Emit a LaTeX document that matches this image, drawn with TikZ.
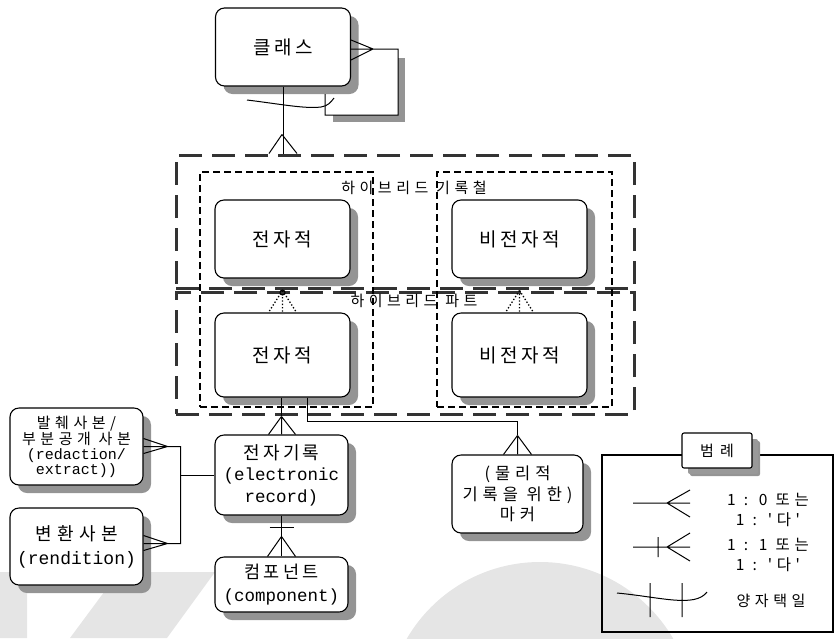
\documentclass[tikz,border=0pt]{standalone}
\usepackage{fontspec}
\setmainfont{Liberation Serif}
\newfontfamily\kr{Noto Sans CJK KR}
\newfontfamily\krs{Noto Sans CJK KR}[LetterSpace=18]
\newfontfamily\krw{Noto Sans CJK KR}[LetterSpace=30]
\newfontfamily\mono{Liberation Mono}
\usetikzlibrary{shadows,calc}
\begin{document}
\begin{tikzpicture}[x=1pt,y=-1pt,
  ent/.style={draw, line width=1.1pt, rounded corners=9pt, fill=white, align=center, inner sep=0pt,
    drop shadow={shadow xshift=8pt, shadow yshift=-8pt, fill=black!42, opacity=1}},
  big/.style={ent, minimum width=135pt, font=\fontsize{19}{22}\selectfont\krs},
  thick dash/.style={draw=black!80, line width=3pt, dash pattern=on 23pt off 10pt, inner sep=0pt},
  thin dash/.style={draw, line width=1.1pt, dash pattern=on 7pt off 4pt, inner sep=0pt},
  con/.style={line width=1pt},
  dcon/.style={line width=1.3pt, dotted},
  wm/.style={fill=black!10},
  lbl/.style={font=\fontsize{15}{18}\selectfont\krw, inner sep=0pt}
]
\useasboundingbox (0,0) rectangle (834,638);
\clip (0,0) rectangle (834,638);
% watermark shapes
\fill[wm] (0,572) -- (215,572) -- (167,638) -- (70,638) -- (113,580) -- (27,580) -- (27,638) -- (0,638) -- cycle;
\fill[wm] (540,716) circle (154pt);

% dashed frames
\node[thick dash, minimum width=458pt, minimum height=133pt] (hf) at (405,221.5) {};
\node[thick dash, minimum width=458pt, minimum height=122pt] (hp) at (405,353) {};
\node[thin dash, minimum width=173pt, minimum height=235pt] (il) at (286.5,289.5) {};
\node[thin dash, minimum width=175pt, minimum height=235pt] (ir) at (524.5,289.5) {};
\node[lbl] (lf) at (414,188) {하이브리드 기록철};
\node[lbl] (lp) at (414,301) {하이브리드 파트};

% self-loop background of class
\fill[black!42] (333,58) rectangle (405,122);
\fill[white] (325,50) rectangle (398,115);

% entities
\node[big, minimum height=78pt] (cls) at (283,47) {클래스};
\node[big, minimum height=78pt] (e1) at (282.5,239) {전자적};
\node[big, minimum height=78pt] (n1) at (519.5,239) {비전자적};
\node[big, minimum height=84pt] (e2) at (282.5,355) {전자적};
\node[big, minimum height=84pt] (n2) at (519.5,355) {비전자적};
\node[ent, minimum width=133pt, minimum height=80pt, font=\fontsize{17.5}{21.5}\selectfont] (er) at (281.5,475)
  {{\fontsize{18}{21.5}\selectfont\krs 전자기록}\\{\mono (electronic}\\{\mono record)}};
\node[ent, minimum width=133pt, minimum height=77pt, font=\fontsize{15}{15}\selectfont] (red) at (76.5,446.5)
  {{\krw 발췌사본/}\\{\krw 부분공개 사본}\\{\mono (redaction/}\\{\mono extract))}};
\node[ent, minimum width=133pt, minimum height=77pt, font=\fontsize{18}{24}\selectfont] (ren) at (76.5,546.5)
  {{\krw 변환사본}\\{\mono (rendition)}};
\node[ent, minimum width=133pt, minimum height=55pt, font=\fontsize{17.5}{23}\selectfont] (comp) at (281.5,584.5)
  {{\krs 컴포넌트}\\{\mono (component)}};
\node[ent, minimum width=131pt, minimum height=78pt, font=\fontsize{16.5}{20.5}\selectfont\krw] (mark) at (517.5,494)
  {(물리적\\기록을 위한)\\마커};

% class self loop
\coordinate (cc) at ($(cls.east)+(22,2)$);
\coordinate (l1) at (398,49);
\coordinate (l2) at (398,115);
\coordinate (l3) at (325,115);
\coordinate (l4) at (325,94);
\draw[con] ($(cls.east)+(0,-7)$) -- (cc) -- ($(cls.east)+(0,13)$) ($(cls.east)+(0,2)$) -- (cc) -- (l1) -- (l2) -- (l3) -- (l4);

% class to hybrid file
\coordinate (cf) at ($(cls.south |- hf.north)+(-1,-19)$);
\draw[con] (cls.south) -- (cls.south |- hf.north);
\draw[con] (cf) -- ($(cls.south |- hf.north)+(-14,0)$) (cf) -- ($(cls.south |- hf.north)+(14,0)$);
\coordinate (x1) at (247,100);
\coordinate (x2) at (334,98);
\draw[con] (x1) .. controls (280,104) and (305,109) .. (321,107) .. controls (328,106) and (331,102) .. (x2);

% dotted part-to-file links
\coordinate (d1) at (e2.north |- hp.north);
\draw[dcon] (d1) -- ($(e2.north)+(-14,0)$) (d1) -- (e2.north) (d1) -- ($(e2.north)+(14,0)$);
\draw[line width=1pt] ($(d1)+(0,2)$) circle (2.5pt);
\coordinate (d2) at (n2.north |- hp.north);
\draw[dcon] (d2) -- ($(n2.north)+(-14,0)$) (d2) -- (n2.north) (d2) -- ($(n2.north)+(14,0)$);

% electronic part -> electronic record
\coordinate (c1) at ($(er.north)+(0,-18)$);
\draw[con] ($(e2.south)+(-1,0)$) -- (c1);
\draw[con] (c1) -- ($(er.north)+(-13,0)$) (c1) -- (er.north) (c1) -- ($(er.north)+(14,0)$);

% electronic part -> marker
\coordinate (m0) at ($(e2.south)+(25,0)$);
\coordinate (m1) at ($(mark.north)+(0,-19)$);
\draw[con] (m0) -- (m0 |- 0,421) -- (mark.north |- 0,421) -- (m1);
\draw[con] (m1) -- ($(mark.north)+(-14,0)$) (m1) -- (mark.north) (m1) -- ($(mark.north)+(14,0)$);

% redaction / rendition -> electronic record
\coordinate (r1) at ($(red.east)+(24,0)$);
\coordinate (r2) at ($(ren.east)+(24,-3)$);
\coordinate (j1) at ($(r1)+(13,0)$);
\coordinate (j2) at ($(r2)+(13,0)$);
\draw[con] ($(red.east)+(0,-8)$) -- (r1) -- ($(red.east)+(0,7)$) (red.east) -- (r1) -- (j1) -- (j2) -- (r2);
\draw[con] ($(ren.east)+(0,-11)$) -- (r2) -- ($(ren.east)+(0,4)$) ($(ren.east)+(0,-3)$) -- (r2);
\draw[con] (j1 |- er.west) -- (er.west);

% component -> electronic record
\coordinate (k1) at ($(comp.north)+(0,-20)$);
\draw[con] (er.south) -- (comp.north);
\draw[con] (k1) -- ($(comp.north)+(-14,0)$) (k1) -- ($(comp.north)+(14,0)$);
\draw[con] ($(er.south)+(-12,12)$) -- ($(er.south)+(12,12)$);

% legend
\draw[line width=1.1pt] (602,455) rectangle (833,632);
\node[ent, rounded corners=2pt, minimum width=70pt, minimum height=35pt, font=\fontsize{15}{18}\selectfont\krs,
  drop shadow={shadow xshift=6pt, shadow yshift=-6pt, fill=black!40, opacity=1}] (lt) at (717,450.5) {범 례};
\coordinate (a1) at (633,503);
\coordinate (a2) at (690,503);
\coordinate (a0) at (667,503);
\draw[con] (a1) -- (a2) (690,490) -- (a0) -- (690,517);
\coordinate (b1) at (633,547);
\coordinate (b2) at (690,547);
\coordinate (b0) at (667,547);
\draw[con] (b1) -- (b2) (690,533) -- (b0) -- (690,561) (658,537) -- (658,557);
\coordinate (q1) at (617,593);
\coordinate (q2) at (707,592);
\draw[con] (q1) .. controls (660,597) and (695,608) .. (q2) (650,583) -- (650,617) (682,583) -- (682,617);
\node[font=\fontsize{15.5}{20}\selectfont\krw, align=center, inner sep=0pt] (t1) at (768,510) {1 : 0 또는\\1 : '다'};
\node[font=\fontsize{15.5}{20}\selectfont\krw, align=center, inner sep=0pt] (t2) at (768,555) {1 : 1 또는\\1 : '다'};
\node[lbl] (t3) at (771,601) {양자택일};
\end{tikzpicture}
\end{document}
